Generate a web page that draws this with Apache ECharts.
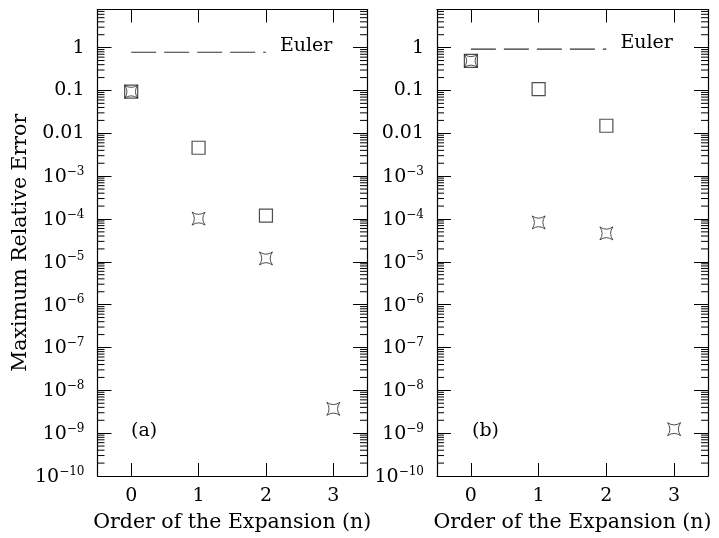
<!DOCTYPE html>
<html>
<head>
<meta charset="utf-8">
<script src="https://cdn.jsdelivr.net/npm/echarts@6/dist/echarts.min.js"></script>
<style>
    html, body { margin: 0; padding: 0; background: #fff; }
    #chart { width: 719px; height: 538px; }
</style>
</head>
<body>
<div id="chart"></div>
<script>
var orders = ['0', '1', '2', '3'];

// panel (a)
var squaresA = [0.094, 0.0046, 0.00012, null];
var starsA = [0.094, 1.02e-4, 1.2e-5, 3.7e-9];
var eulerA = 0.78;

// panel (b)
var squaresB = [0.49, 0.107, 0.015, null];
var starsB = [0.49, 8.3e-5, 4.6e-5, 1.24e-9];
var eulerB = 0.92;

var panelLabels = ['(a)', '(b)'];
var decades = [-10, -9, -8, -7, -6, -5, -4, -3, -2, -1, 0];
var minorSteps = [2, 3, 4, 5, 6, 7, 8, 9];

var FONT = 'DejaVu Serif';
var LOG_MIN = -10;
var LOG_MAX = 0.89;

var starPath = 'path://M0,0 Q10,7 20,0 Q13,10 20,20 Q10,13 0,20 Q7,10 0,0 Z';

function toLog(values) {
    return values.map(function (v, i) {
        return v == null ? [i, null] : [i, Math.log10(v)];
    });
}

function yLabel(value) {
    if (Math.abs(value - Math.round(value)) > 1e-6) {
        return '';
    }
    var p = Math.round(value);
    if (p === 0) { return '1'; }
    if (p === -1) { return '0.1'; }
    if (p === -2) { return '0.01'; }
    return '{b|10}{s|\u2212' + (-p) + '}';
}

var minorTicks = [];
decades.forEach(function (d) {
    minorSteps.forEach(function (k) {
        var v = d + Math.log10(k);
        if (v < LOG_MAX) {
            minorTicks.push(v);
        }
    });
});

var grids = [
    { left: 97.5, top: 9.5, width: 269.5, height: 467.5 },
    { left: 437, top: 9.5, width: 271, height: 467.5 }
];

var xAxes = [];
var yAxes = [];
var series = [];

function addPanel(g, squares, stars, euler) {
    var tickStyle = { color: '#000', width: 1 };
    var axisLine = { show: true, onZero: false, lineStyle: { color: '#000', width: 1.2 } };

    xAxes.push({
        type: 'category', gridIndex: g, position: 'bottom', data: orders,
        axisLine: axisLine,
        axisTick: { show: true, inside: true, alignWithLabel: true, length: 13, lineStyle: tickStyle },
        axisLabel: { color: '#000', fontFamily: FONT, fontSize: 19, margin: 11 },
        name: 'Order of the Expansion (n)', nameLocation: 'middle', nameGap: 36,
        nameTextStyle: { color: '#000', fontFamily: FONT, fontSize: 20.5 },
        splitLine: { show: false }
    });
    xAxes.push({
        type: 'category', gridIndex: g, position: 'top', data: orders,
        axisLine: axisLine,
        axisTick: { show: true, inside: true, alignWithLabel: true, length: 13, lineStyle: tickStyle },
        axisLabel: { show: false },
        splitLine: { show: false }
    });

    var yBase = {
        type: 'value', gridIndex: g, min: LOG_MIN, max: LOG_MAX, interval: 1,
        axisLine: axisLine,
        axisTick: { show: true, inside: true, length: 14, lineStyle: tickStyle },
        splitLine: { show: false }
    };
    yAxes.push(Object.assign({}, yBase, {
        position: 'left',
        axisLabel: {
            show: true, margin: 13, showMaxLabel: false, formatter: yLabel,
            color: '#000', fontFamily: FONT, fontSize: 19,
            rich: {
                b: { color: '#000', fontFamily: FONT, fontSize: 19, verticalAlign: 'bottom' },
                s: { color: '#000', fontFamily: FONT, fontSize: 12, verticalAlign: 'bottom', padding: [0, 0, 9, 0] }
            }
        },
        name: g === 0 ? 'Maximum Relative Error' : '',
        nameLocation: 'middle', nameGap: 65,
        nameTextStyle: { color: '#000', fontFamily: FONT, fontSize: 20.5 }
    }));
    yAxes.push(Object.assign({}, yBase, {
        position: 'right',
        axisLabel: { show: false }
    }));

    var xi = g * 2;
    var yi = g * 2;

    // minor log ticks on both vertical edges
    series.push({
        type: 'custom', xAxisIndex: xi, yAxisIndex: yi, silent: true,
        data: minorTicks.map(function (v) { return [0, v]; }),
        renderItem: function (params, api) {
            var y = api.coord([0, api.value(1)])[1];
            var cs = params.coordSys;
            var style = { stroke: '#000', lineWidth: 1 };
            return {
                type: 'group',
                children: [
                    { type: 'line', shape: { x1: cs.x, y1: y, x2: cs.x + 7, y2: y }, style: style },
                    { type: 'line', shape: { x1: cs.x + cs.width, y1: y, x2: cs.x + cs.width - 7, y2: y }, style: style }
                ]
            };
        }
    });

    series.push({
        type: 'line', xAxisIndex: xi, yAxisIndex: yi, name: 'Euler',
        data: [[0, Math.log10(euler)], [2, Math.log10(euler)]],
        showSymbol: false, symbol: 'none', silent: true,
        lineStyle: { color: '#333', width: 1.2, type: [25, 8] },
        endLabel: {
            show: true, formatter: 'Euler', distance: 14, offset: [0, -6],
            color: '#000', fontFamily: FONT, fontSize: 19
        }
    });

    series.push({
        type: 'scatter', xAxisIndex: xi, yAxisIndex: yi,
        data: toLog(squares),
        symbol: 'rect', symbolSize: 13,
        itemStyle: { color: 'rgba(0,0,0,0)', borderColor: '#222', borderWidth: 1.2 }
    });

    series.push({
        type: 'scatter', xAxisIndex: xi, yAxisIndex: yi,
        data: toLog(stars),
        symbol: starPath, symbolSize: 13,
        itemStyle: { color: 'rgba(0,0,0,0)', borderColor: '#222', borderWidth: 1 }
    });
}

addPanel(0, squaresA, starsA, eulerA);
addPanel(1, squaresB, starsB, eulerB);

var chart = echarts.init(document.getElementById('chart'), null, { renderer: 'canvas' });
chart.setOption({
    animation: false,
    backgroundColor: '#fff',
    grid: grids,
    xAxis: xAxes,
    yAxis: yAxes,
    series: series,
    graphic: [
        { type: 'text', left: 131, top: 422, style: { text: panelLabels[0], fill: '#000', font: '19px "DejaVu Serif"' } },
        { type: 'text', left: 472, top: 422, style: { text: panelLabels[1], fill: '#000', font: '19px "DejaVu Serif"' } }
    ]
});
</script>
</body>
</html>
